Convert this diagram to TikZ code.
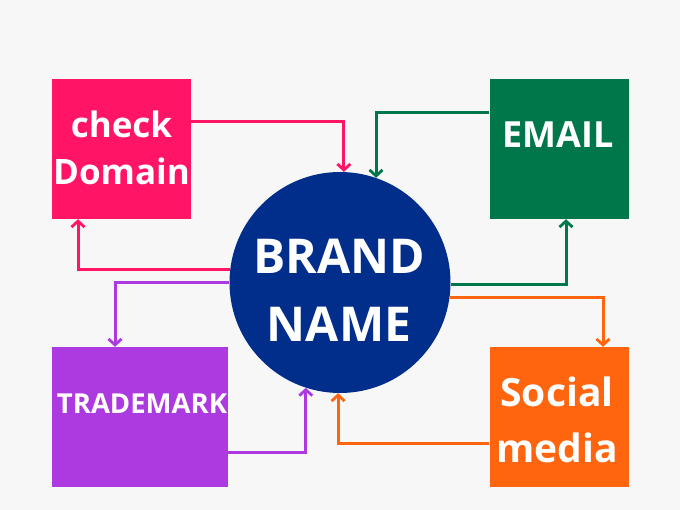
\documentclass[tikz,border=0pt]{standalone}
\usepackage{fontspec}
\setmainfont{Open Sans}
\usetikzlibrary{arrows.meta,calc}
\definecolor{bg}{HTML}{F7F7F7}
\definecolor{cpink}{HTML}{FF1466}
\definecolor{cgreen}{HTML}{00774A}
\definecolor{cpurple}{HTML}{AD3AE0}
\definecolor{corange}{HTML}{FF650F}
\definecolor{cnavy}{HTML}{002E8A}
\tikzset{
  box/.style={rectangle, inner sep=0pt, minimum width=139pt, minimum height=140pt},
  lbl/.style={text=white, font=\bfseries, align=center, inner sep=0pt},
  conn/.style={line width=3pt, -{Straight Barb[length=6pt,width=13pt,line width=2.8pt]}},
}
\begin{document}
\begin{tikzpicture}[x=1pt,y=-1pt]
\fill[bg] (0,0) rectangle (680,510);
\useasboundingbox (0,0) rectangle (680,510);
% boxes
\node[box, fill=cpink] (cd) at (121.5,149) {};
\node[box, fill=cgreen] (em) at (559,149) {};
\node[box, fill=cpurple, minimum width=176pt] (tm) at (140,417) {};
\node[box, fill=corange] (sm) at (559,417) {};
\node[circle, fill=cnavy, minimum size=221pt, inner sep=0pt] (bn) at (340,282.5) {};
% labels
\node[lbl, font=\fontsize{35}{47}\selectfont\bfseries] (cdt) at (121.5,148) {check\\Domain};
\node[lbl, font=\fontsize{36}{40}\selectfont\bfseries] (emt) at (558,135) {EMAIL};
\node[lbl, font=\fontsize{27.5}{30}\selectfont\bfseries] (tmt) at (142,404) {TRADEMARK};
\node[lbl, font=\fontsize{39}{56}\selectfont\bfseries] (smt) at (557,420) {Social\\media};
\node[lbl, font=\fontsize{48}{68}\selectfont\bfseries] (bnt) at (339,290) {BRAND\\NAME};
% connectors
\draw[conn, cpink] ([yshift=27pt]cd.east) -| (bn.88);
\draw[conn, cpink] (bn.173) -| ([xshift=-43.5pt]cd.south);
\draw[conn, cgreen] ([yshift=36pt]em.west) -| (bn.71.6);
\draw[conn, cgreen] (bn.-1) -| ([xshift=7pt]em.south);
\draw[conn, cpurple] (bn.180) -| ([xshift=-25pt]tm.north);
\draw[conn, cpurple] ([yshift=-35pt]tm.east) -| (bn.252.2);
\draw[conn, corange] (bn.352.2) -| ([xshift=44pt]sm.north);
\draw[conn, corange] ([yshift=-26pt]sm.west) -| (bn.269);
\end{tikzpicture}
\end{document}
